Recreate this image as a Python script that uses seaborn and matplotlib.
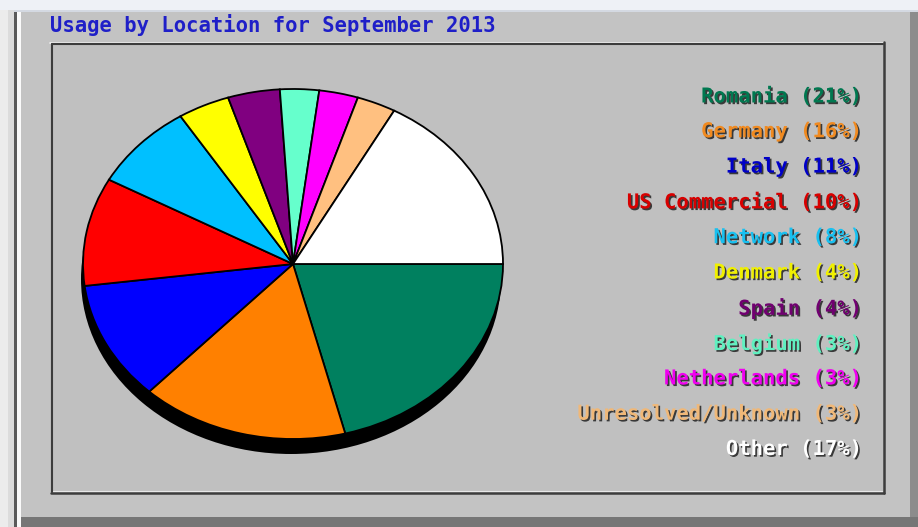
import matplotlib
matplotlib.use("Agg")
import matplotlib.pyplot as plt
import matplotlib.patheffects as pe
from matplotlib.patches import Rectangle, Ellipse
import seaborn as sns

# Usage share by location, September 2013
locations = ["Romania", "Germany", "Italy", "US Commercial", "Network", "Denmark",
             "Spain", "Belgium", "Netherlands", "Unresolved/Unknown", "Other"]
percent = [21, 16, 11, 10, 8, 4, 4, 3, 3, 3, 17]
wedge_colors = ["#00805f", "#ff8000", "#0000ff", "#ff0000", "#00c0ff", "#ffff00",
                "#800080", "#66ffcc", "#ff00ff", "#ffc080", "#ffffff"]
label_colors = ["#007850", "#f08a20", "#0000c8", "#d80000", "#18c0f0", "#f0f000",
                "#700070", "#60f0c0", "#f000f0", "#f0b878", "#ffffff"]
title = "Usage by Location for September 2013"

sns.set_theme(style="white")
plt.rcParams["font.family"] = ["DejaVu Sans Mono", "DejaVu Sans"]

W, H = 918, 527
fig = plt.figure(figsize=(W / 100, H / 100), dpi=100)
fig.patch.set_facecolor("#c3c3c3")

# Frame / panel decorations in pixel coordinates
bg = fig.add_axes([0, 0, 1, 1])
bg.set_xlim(0, W)
bg.set_ylim(H, 0)
bg.axis("off")

def rect(x, y, w, h, color, **kw):
    bg.add_patch(Rectangle((x, y), w, h, facecolor=color, edgecolor="none", **kw))

rect(0, 0, W, H, "#c3c3c3")
rect(0, 0, W, 10, "#eef1f6")
rect(0, 10, W, 2, "#d4d9e2")
rect(0, 10, 8, H, "#ececec")
rect(8, 10, 6, H, "#dcdcdc")
rect(14, 12, 3, H, "#5a5a5a")
rect(17, 12, 4, H, "#fafafa")
rect(910, 12, 8, H, "#8c8c8c")
rect(21, 517, W, 10, "#767676")

# inner panel with inset border
rect(50, 42, 834, 451, "#c0c0c0")
bg.plot([50, 884], [42.5, 42.5], color="#f2f2f2", lw=1.2)
bg.plot([51.5, 883], [44, 44], color="#3c3c3c", lw=1.5)
bg.plot([51.5, 51.5], [44, 492], color="#3c3c3c", lw=1.5)
bg.plot([884, 884], [42, 493], color="#3c3c3c", lw=1.8)
bg.plot([51, 884], [492.5, 492.5], color="#3c3c3c", lw=1.8)
bg.plot([53, 882], [490.5, 490.5], color="#e8e8e8", lw=0.8)

bg.text(50, 25, title, color="#1f1fc8", fontsize=14.8, fontweight="bold",
        ha="left", va="center")

# Pie chart (elliptical, with drop shadow)
cx, cy, rx, ry = 293, 264, 210, 175
ax = fig.add_axes([(cx - rx) / W, (H - cy - ry) / H, 2 * rx / W, 2 * ry / H])
ax.axis("off")
ax.add_patch(Ellipse((-2 / rx, -15 / ry), 2, 2, facecolor="black",
                     edgecolor="none", zorder=0, clip_on=False))
palette = sns.color_palette(wedge_colors)
ax.pie(percent, colors=palette, startangle=0, counterclock=False, radius=1,
       wedgeprops=dict(edgecolor="black", linewidth=1.3))
ax.set_xlim(-1, 1)
ax.set_ylim(-1, 1)
ax.set_aspect("auto")

# Right-hand legend labels
shadow = [pe.withSimplePatchShadow(offset=(1.2, -1.2), shadow_rgbFace="black", alpha=0.7)]
for i, (name, p, c) in enumerate(zip(locations, percent, label_colors)):
    bg.text(862, 96 + i * 35.3, f"{name} ({p}%)", color=c, fontsize=14.8,
            fontweight="bold", ha="right", va="center", path_effects=shadow)

fig.savefig("out.png", dpi=100, facecolor=fig.get_facecolor())
